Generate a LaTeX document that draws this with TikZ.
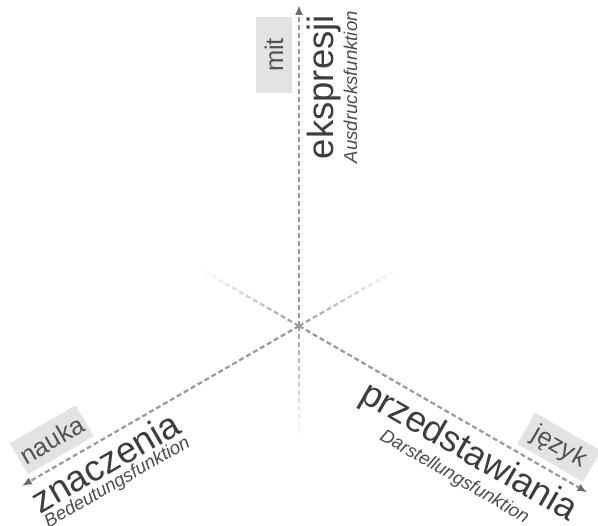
\documentclass[tikz,border=0pt]{standalone}
\usepackage{fontspec}
\setmainfont{Liberation Sans}
\usetikzlibrary{arrows.meta,positioning}

\begin{document}
\begin{tikzpicture}[
  x=1pt,y=1pt,
  axis/.style={line width=2.2pt,draw=black!40,dash pattern=on 5pt off 3pt,
    -{Latex[length=10pt,width=8pt,color=black!58]}},
  word/.style={transform shape,inner sep=0pt,text=black!76,
    font=\fontsize{36.5}{40}\selectfont},
  gloss/.style={transform shape,inner sep=0pt,text=black!70,
    font=\fontsize{18.6}{21}\selectfont\itshape},
  tag/.style={transform shape,fill=black!11,text=black!68,
    minimum width=76pt,minimum height=36pt,inner sep=0pt,
    font=\fontsize{25.5}{28}\selectfont}
]

\useasboundingbox (-299,-200) rectangle (299,326);

\coordinate (centre) at (0,0);
\coordinate (ekspr-tip) at (90:321);
\coordinate (znacz-tip) at (210:320);
\coordinate (przed-tip) at (-30:333);

% faded backward stubs
\foreach \ang in {270,30,150}
  \foreach \k in {0,...,13}{
    \pgfmathsetmacro\tone{38-2.7*\k}
    \draw[line width=2.2pt,draw=black!\tone] (\ang:{8*\k}) -- (\ang:{8*\k+5});
  }

\draw[axis] (centre) -- (ekspr-tip);
\draw[axis] (centre) -- (znacz-tip);
\draw[axis] (centre) -- (przed-tip);

% Ausdruck
\begin{scope}[rotate=90]
  \node[tag] (mit) at (271,25) {mit};
  \node[word,anchor=north east] (ekspresji) at (311,-8) {ekspresji};
  \node[gloss,below=2pt of ekspresji] (ausdruck) {Ausdrucksfunktion};
\end{scope}

% Bedeutung
\begin{scope}[rotate=30]
  \node[tag] (nauka) at (-271,25) {nauka};
  \node[word,anchor=north west] (znaczenia) at (-318,-7) {znaczenia};
  \node[gloss,below=2pt of znaczenia] (bedeutung) {Bedeutungsfunktion};
\end{scope}

% Darstellung
\begin{scope}[rotate=-30]
  \node[tag] (jezyk) at (286,25) {język};
  \node[word,anchor=north east] (przedstawiania) at (332,-8) {przedstawiania};
  \node[gloss,below=2pt of przedstawiania] (darstellung) {Darstellungsfunktion};
\end{scope}

\end{tikzpicture}
\end{document}
